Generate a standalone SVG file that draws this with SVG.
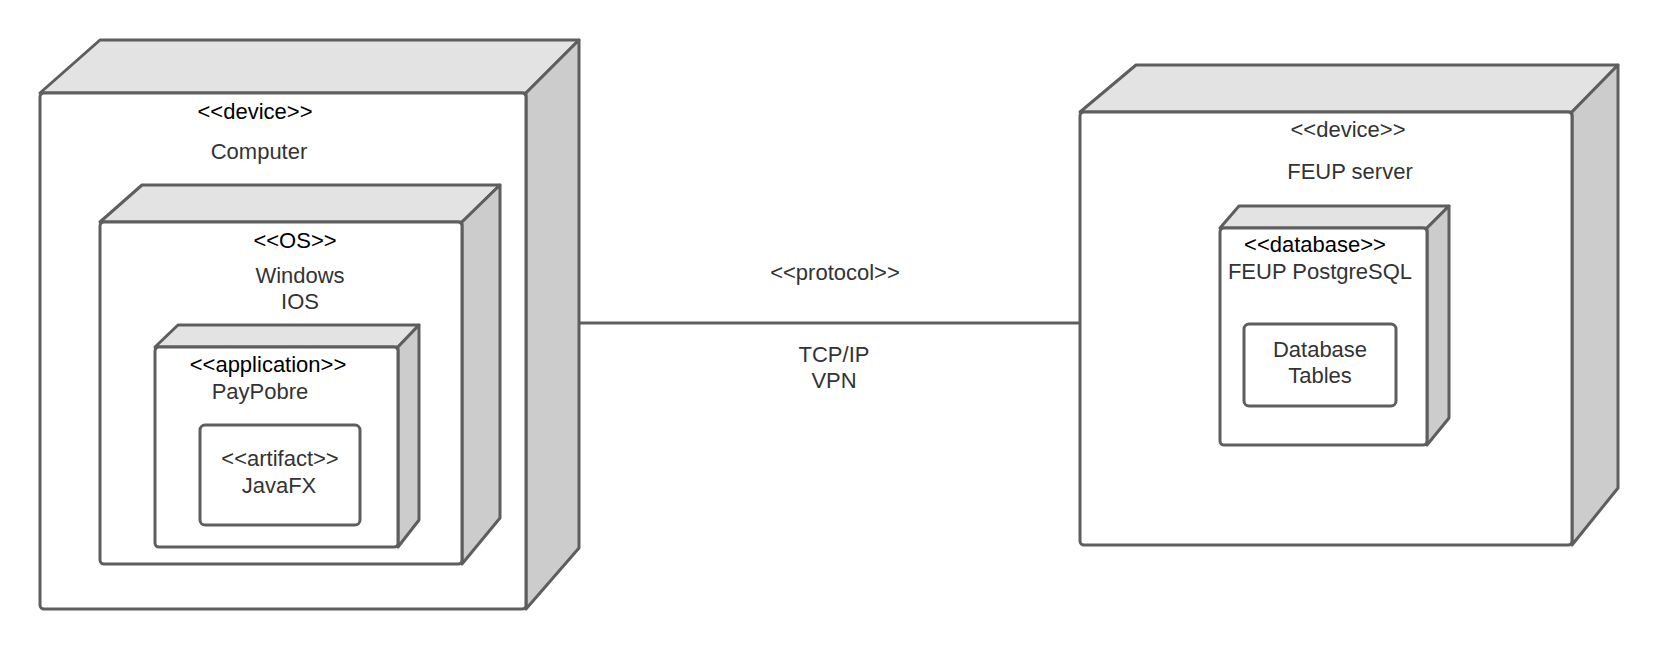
<svg xmlns="http://www.w3.org/2000/svg" width="1660" height="650" viewBox="0 0 1660 650">
<style>
.shape{stroke:#5e5e5e;stroke-width:3;stroke-linejoin:round}
.front{fill:#ffffff}
.top{fill:#e3e3e3}
.side{fill:#cccccc}
.conn{stroke:#5e5e5e;stroke-width:3;fill:none}
text{font-family:"Liberation Sans",Arial,sans-serif;font-size:22px;text-anchor:middle;fill:#333333}
text.st{fill:#000000}
</style>
<rect width="1660" height="650" fill="#ffffff"/>
<g id="connectors">
<line class="conn" x1="580" y1="323" x2="1080" y2="323"/>
<text x="835" y="280">&lt;&lt;protocol&gt;&gt;</text>
<text x="834" y="362">TCP/IP</text>
<text x="834" y="388">VPN</text>
</g>
<g id="computer">
<polygon class="shape top" points="40,93 100,40 579,40 526,93"/>
<polygon class="shape side" points="526,93 579,40 579,548 526,609"/>
<rect class="shape front" x="40" y="93" width="486" height="516" rx="4"/>
<text class="st" x="255" y="119">&lt;&lt;device&gt;&gt;</text>
<text x="259" y="159">Computer</text>
</g>
<g id="os">
<polygon class="shape top" points="100,222 142,185 500,185 462,222"/>
<polygon class="shape side" points="462,222 500,185 500,518 462,564"/>
<rect class="shape front" x="100" y="222" width="362" height="342" rx="4"/>
<text class="st" x="295" y="248">&lt;&lt;OS&gt;&gt;</text>
<text x="300" y="283">Windows</text>
<text x="300" y="309">IOS</text>
</g>
<g id="application">
<polygon class="shape top" points="155,347 178,325 419,325 398,347"/>
<polygon class="shape side" points="398,347 419,325 419,520 398,547"/>
<rect class="shape front" x="155" y="347" width="243" height="200" rx="4"/>
<text class="st" x="268" y="372">&lt;&lt;application&gt;&gt;</text>
<text x="260" y="399">PayPobre</text>
</g>
<g id="artifact">
<rect class="shape front" x="200" y="425" width="160" height="100" rx="5"/>
<text x="280" y="466">&lt;&lt;artifact&gt;&gt;</text>
<text x="279" y="493">JavaFX</text>
</g>
<g id="server">
<polygon class="shape top" points="1080,112 1136,65 1618,65 1572,112"/>
<polygon class="shape side" points="1572,112 1618,65 1618,488 1572,545"/>
<rect class="shape front" x="1080" y="112" width="492" height="433" rx="4"/>
<text x="1348" y="137">&lt;&lt;device&gt;&gt;</text>
<text x="1350" y="179">FEUP server</text>
</g>
<g id="database">
<polygon class="shape top" points="1220,228 1239,206 1449,206 1427,228"/>
<polygon class="shape side" points="1427,228 1449,206 1449,418 1427,445"/>
<rect class="shape front" x="1220" y="228" width="207" height="217" rx="4"/>
<text class="st" x="1315" y="252">&lt;&lt;database&gt;&gt;</text>
<text x="1320" y="279">FEUP PostgreSQL</text>
</g>
<g id="tables">
<rect class="shape front" x="1244" y="324" width="152" height="82" rx="5"/>
<text x="1320" y="357">Database</text>
<text x="1320" y="383">Tables</text>
</g>
</svg>
